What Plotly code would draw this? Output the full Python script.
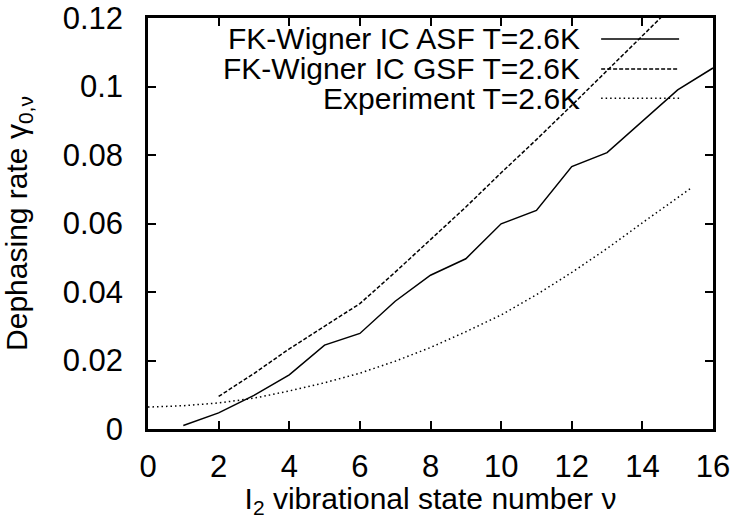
import plotly.graph_objects as go

# Data
v_asf = [1, 2, 3, 4, 5, 6, 7, 8, 9, 10, 11, 12, 13, 14, 15, 16]
g_asf = [0.0010, 0.0047, 0.0098, 0.0158, 0.0245, 0.0279, 0.0373, 0.0449, 0.0497,
         0.0599, 0.0638, 0.0766, 0.0807, 0.0898, 0.0990, 0.1054]

v_gsf = [2, 3, 4, 5, 6, 7, 8, 9, 10, 11, 12, 13, 14, 15]
g_gsf = [0.0095, 0.0162, 0.0234, 0.0300, 0.0366, 0.0458, 0.0552, 0.0648, 0.0748,
         0.0845, 0.0945, 0.1045, 0.1148, 0.1250]

v_exp = [0, 1, 2, 3, 4, 5, 6, 7, 8, 9, 10, 11, 12, 13, 14, 15, 15.4]
g_exp = [0.0064, 0.0068, 0.0076, 0.0090, 0.0111, 0.0135, 0.0163, 0.0198, 0.0238,
         0.0284, 0.0333, 0.0392, 0.0457, 0.0527, 0.0602, 0.0677, 0.0705]

names = ["FK-Wigner IC ASF T=2.6K", "FK-Wigner IC GSF T=2.6K", "Experiment T=2.6K"]
dashes = ["solid", "4px,2px", "1.5px,3px"]

x_ticks = [0, 2, 4, 6, 8, 10, 12, 14, 16]
y_ticks = [0, 0.02, 0.04, 0.06, 0.08, 0.1, 0.12]
y_tick_labels = ["0", "0.02", "0.04", "0.06", "0.08", "0.1", "0.12"]

FONT = "Liberation Sans, Arial, sans-serif"
FS_TICK = 31
FS = 30

fig = go.Figure()
for xs, ys, nm, ds in zip([v_asf, v_gsf, v_exp], [g_asf, g_gsf, g_exp], names, dashes):
    fig.add_trace(go.Scatter(x=xs, y=ys, mode="lines", name=nm,
                             line=dict(color="black", width=1.5, dash=ds),
                             showlegend=False))

# gnuplot-style legend: right-aligned text followed by line sample
rows_y = [0.949, 0.876, 0.805]
for nm, ds, yy in zip(names, dashes, rows_y):
    fig.add_annotation(x=0.768, y=yy, xref="paper", yref="paper", text=nm,
                       showarrow=False, xanchor="right", yanchor="middle",
                       font=dict(family=FONT, size=FS, color="black"))
    fig.add_shape(type="line", xref="paper", yref="paper",
                  x0=0.802, x1=0.940, y0=yy, y1=yy,
                  line=dict(color="black", width=1.5, dash=ds))

axis_common = dict(showgrid=False, zeroline=False, showline=True, linecolor="black",
                   linewidth=2.5, mirror="all", ticks="inside", ticklen=8,
                   tickwidth=2, tickcolor="black", automargin=False,
                   tickfont=dict(family=FONT, size=FS_TICK, color="black"))

fig.update_xaxes(range=[0, 16], tickvals=x_ticks,
                 ticktext=[str(t) for t in x_ticks],
                 ticklabelstandoff=8,
                 title=dict(text="I<sub>2</sub> vibrational state number ν",
                            font=dict(family=FONT, size=FS, color="black"),
                            standoff=18),
                 **axis_common)
fig.update_yaxes(range=[0, 0.12], tickvals=y_ticks, ticktext=y_tick_labels,
                 ticklabelstandoff=16,
                 title=dict(text="Dephasing rate γ<sub>0,ν</sub>",
                            font=dict(family=FONT, size=FS, color="black"),
                            standoff=28),
                 **axis_common)

fig.update_layout(width=731, height=519,
                  margin=dict(l=148, r=18, t=18, b=90),
                  plot_bgcolor="white", paper_bgcolor="white",
                  font=dict(family=FONT, size=FS, color="black"))

fig.write_html("out.html")
